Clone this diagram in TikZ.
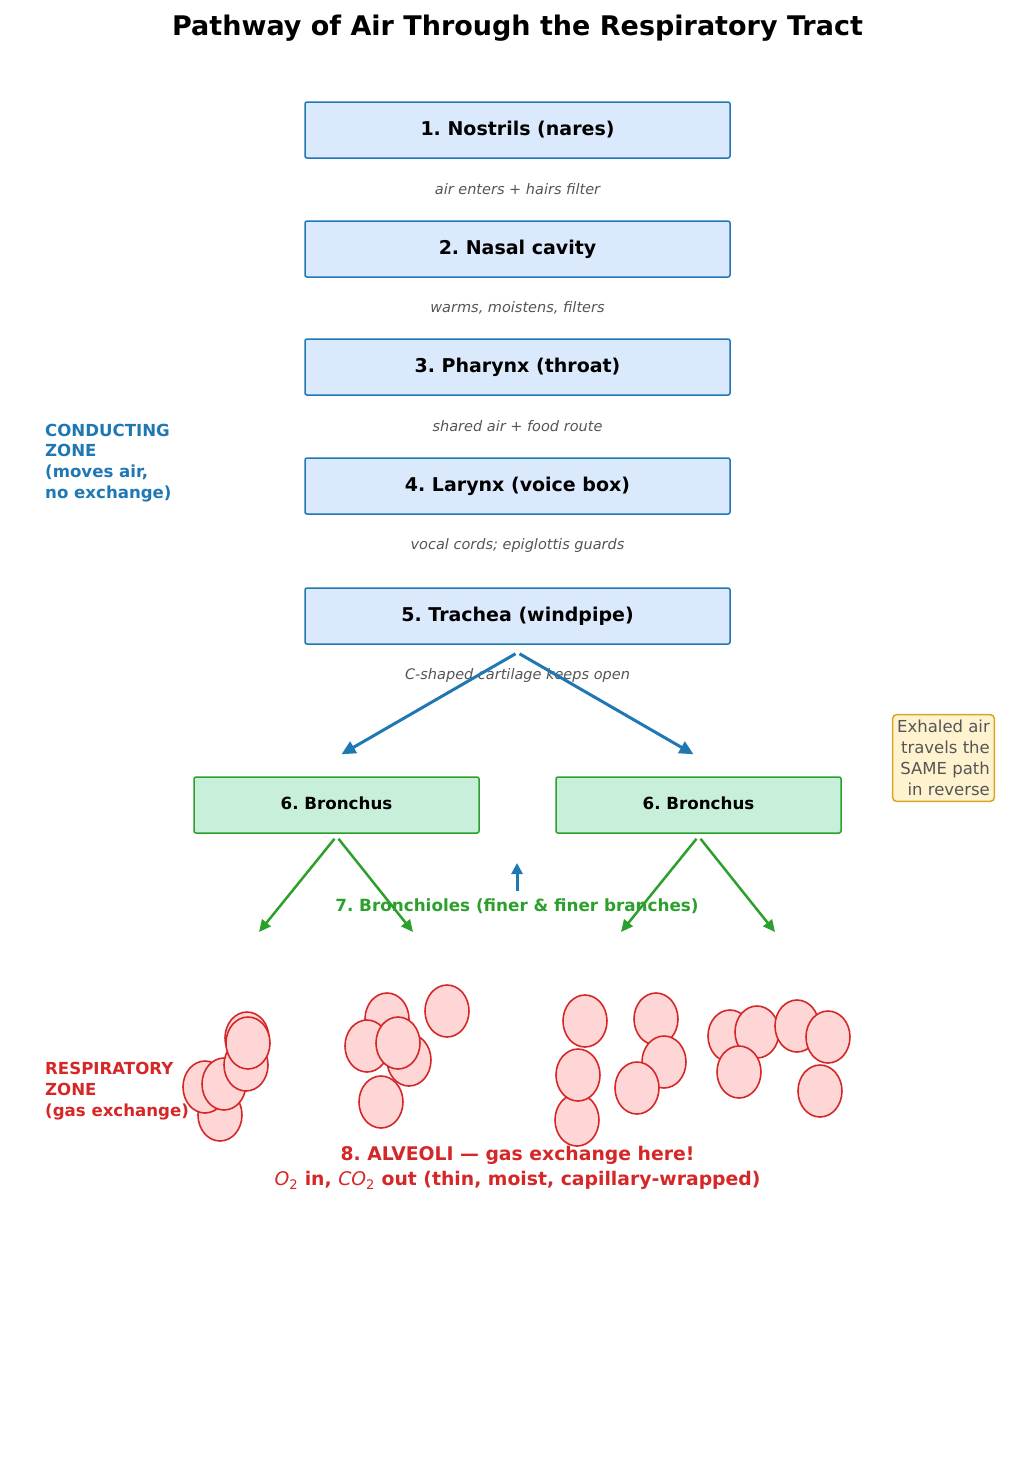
\documentclass[tikz,border=0pt]{standalone}
\usepackage{fontspec}
\setmainfont{DejaVu Sans}
\frenchspacing
\usepackage{xcolor}
\definecolor{airblue}{HTML}{1F77B4}
\definecolor{paleblue}{HTML}{DBE9FC}
\definecolor{leafgreen}{HTML}{2CA02C}
\definecolor{palegreen}{HTML}{C8EFD9}
\definecolor{lungred}{HTML}{D62728}
\definecolor{palered}{HTML}{FFD6D6}
\definecolor{notegold}{HTML}{DAA520}
\definecolor{paleyellow}{HTML}{FFF3CF}
\definecolor{inkgray}{HTML}{555555}
\usepackage{tikz}
\usetikzlibrary{arrows.meta,positioning}
\tikzset{
  >={Triangle[length=14pt,width=13pt]},
  organ/.style  ={draw=airblue,fill=paleblue,line width=1.5pt,rounded corners=2pt,
                  minimum width=425pt,minimum height=56pt,
                  font=\fontsize{19}{23}\selectfont\bfseries},
  bronbox/.style={draw=leafgreen,fill=palegreen,line width=1.5pt,rounded corners=2pt,
                  minimum width=285pt,minimum height=56pt,text depth=0.35em,
                  font=\fontsize{16.7}{20}\selectfont\bfseries},
  hint/.style   ={font=\fontsize{14.5}{17}\selectfont\itshape,text=inkgray},
  zone/.style   ={font=\fontsize{16.6}{20.8}\selectfont\bfseries,align=left,
                  anchor=west,inner sep=0pt},
  sac/.style    ={draw=lungred,fill=palered,line width=1.6pt},
  trunk/.style  ={->,draw=airblue,line width=3pt},
  twig/.style   ={->,draw=leafgreen,line width=2.5pt,>={Triangle[length=12pt,width=11pt]}},
}

\begin{document}
\begin{tikzpicture}[x=1pt,y=-1pt]
\useasboundingbox (0,0) rectangle (1035,1484);
\node[font=\fontsize{27}{32}\selectfont\bfseries] (title) at (517.5,28)
  {Pathway of Air Through the Respiratory Tract};
% conducting zone: the main column
\node[organ] (nares)   at (517.5,130) {1. Nostrils (nares)};
\node[organ] (nasal)   at (517.5,249) {2. Nasal cavity};
\node[organ] (pharynx) at (517.5,367) {3. Pharynx (throat)};
\node[organ] (larynx)  at (517.5,486) {4. Larynx (voice box)};
\node[organ] (trachea) at (517.5,616) {5. Trachea (windpipe)};
\node[hint] (h1) at (517.5,189) {air enters + hairs filter};
\node[hint] (h2) at (517.5,308) {warms, moistens, filters};
\node[hint] (h3) at (517.5,426) {shared air + food route};
\node[hint] (h4) at (517.5,545) {vocal cords; epiglottis guards};
\node[hint] (h5) at (517.5,675) {C-shaped cartilage keeps open};
\node[zone,text=airblue] (cz) at (45,463)
  {CONDUCTING\\ZONE\\(moves air,\\no exchange)};
% the split into the two bronchi
\node[bronbox] (bronL) at (336.5,805) {6. Bronchus};
\node[bronbox] (bronR) at (698.5,805) {6. Bronchus};
\draw[trunk] ([xshift=-2pt,yshift=-9pt]trachea.south) -- ([xshift=5pt,yshift=22pt]bronL.north);
\draw[trunk] ([xshift=2pt,yshift=-9pt]trachea.south) -- ([xshift=-5pt,yshift=22pt]bronR.north);
\node[draw=notegold,fill=paleyellow,line width=1.5pt,rounded corners=4pt,text=inkgray,
      align=right,inner xsep=4.5pt,inner ysep=5.5pt,font=\fontsize{16.5}{21}\selectfont] (exhale) at (943.5,758)
  {Exhaled air\\travels the\\SAME path\\in reverse};
% bronchioles
\node[font=\fontsize{16.8}{20}\selectfont\bfseries,text=leafgreen] (brl) at (517,906)
  {7. Bronchioles (finer \& finer branches)};
\coordinate (t1) at (259,932);
\coordinate (t2) at (413,932);
\coordinate (t3) at (621,932);
\coordinate (t4) at (775,932);
\coordinate (up) at (517,863);
\draw[twig] ([xshift=-2pt,yshift=-5pt]bronL.south) -- (t1);
\draw[twig] ([xshift=2pt,yshift=-5pt]bronL.south) -- (t2);
\draw[twig] ([xshift=-2pt,yshift=-5pt]bronR.south) -- (t3);
\draw[twig] ([xshift=2pt,yshift=-5pt]bronR.south) -- (t4);
\draw[->,draw=airblue,line width=3pt,>={Triangle[length=11pt,width=11pt]}]
  ([yshift=4pt]brl.north) -- (up);
% respiratory zone: alveoli
\foreach \x/\y in {220/1115,205/1087,224/1084,246/1065,247/1038,248/1043,
                   387/1019,367/1046,409/1060,398/1043,381/1102,447/1011,
                   585/1021,577/1120,578/1075,656/1019,664/1062,637/1088,
                   730/1036,757/1032,739/1072,797/1026,828/1037,820/1091}
  \draw[sac] (\x,\y) ellipse [x radius=22, y radius=26];
\node[zone,text=lungred] (rz) at (45,1091)
  {RESPIRATORY\\ZONE\\(gas exchange)};
\node[font=\fontsize{18.8}{25}\selectfont\bfseries,text=lungred,align=center] (alv) at (517.5,1168)
  {8. ALVEOLI --- gas exchange here!\\
   {\mdseries\itshape O}\textsubscript{\mdseries 2} in, {\mdseries\itshape CO}\textsubscript{\mdseries 2} out (thin, moist, capillary-wrapped)};
\end{tikzpicture}
\end{document}
